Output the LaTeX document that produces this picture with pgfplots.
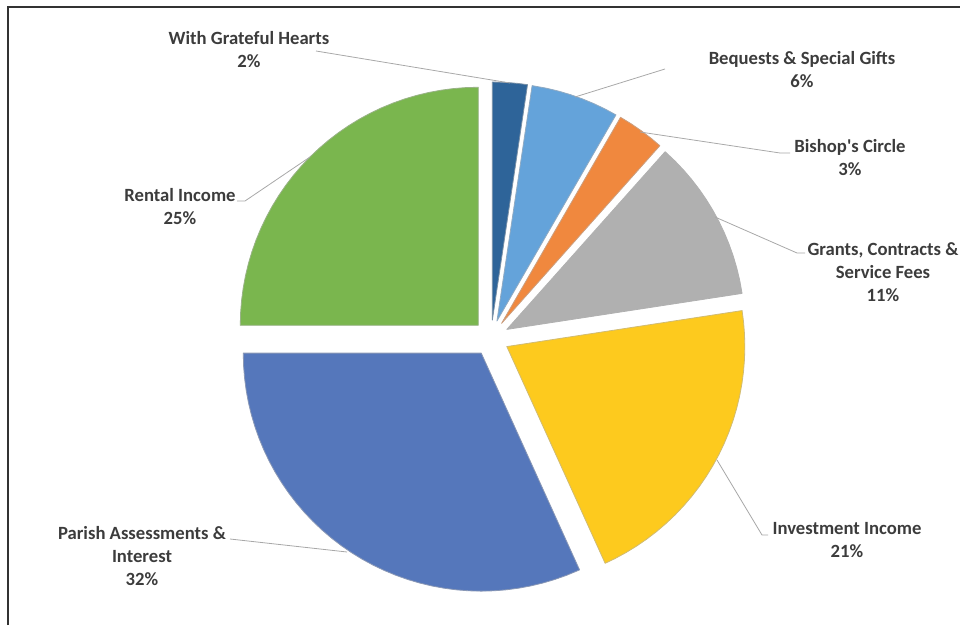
\documentclass[border=0pt]{standalone}
\usepackage{pgfplots}
\pgfplotsset{compat=1.18}
\usepackage{fontspec}
\setmainfont{Carlito}[Ligatures=TeXOff]
\definecolor{cWGH}{HTML}{2E6499}
\definecolor{cBEQ}{HTML}{64A3DA}
\definecolor{cBIS}{HTML}{F0883E}
\definecolor{cGRA}{HTML}{B0B0B0}
\definecolor{cINV}{HTML}{FDCA1E}
\definecolor{cPAR}{HTML}{5577BB}
\definecolor{cREN}{HTML}{7AB64E}
\definecolor{txt}{HTML}{3C3C3C}
\definecolor{lead}{HTML}{A8A8A8}
\begin{document}
\begin{tikzpicture}
\begin{axis}[at={(0,0)},anchor=south west,
  x=0.75pt,y=0.75pt,xmin=-491,xmax=469,ymin=-287,ymax=338,
  hide axis,clip=false,
  every axis plot/.append style={data cs=polar,line width=0.6pt,line join=round}]
% shares (%): WGH 2.4, Bequests 6.0, Bishop 3.2, Grants 11.0, Investment 20.6, Parish 31.8, Rental 25.0
% wedges as (angle, radius) polar coordinates, pie radius 238
\addplot[fill=cWGH,draw=cWGH!70!black!60,shift={(85.75:13.5pt)}] coordinates {(0,0) (90,238) (87,238) (84,238) (81.5,238)} -- cycle;
\addplot[fill=cBEQ,draw=cBEQ!70!black!60,shift={(70.75:13.5pt)}] coordinates {(0,0) (81.5,238) (78,238) (75,238) (72,238) (69,238) (66,238) (63,238) (60,238)} -- cycle;
\addplot[fill=cBIS,draw=cBIS!70!black!60,shift={(54.15:13.5pt)}] coordinates {(0,0) (60,238) (57,238) (54,238) (51,238) (48.3,238)} -- cycle;
\addplot[fill=cGRA,draw=cGRA!70!black!60,shift={(28.5:13.5pt)}] coordinates {(0,0) (48.3,238) (45,238) (42,238) (39,238) (36,238) (33,238) (30,238) (27,238) (24,238) (21,238) (18,238) (15,238) (12,238) (8.7,238)} -- cycle;
\addplot[fill=cINV,draw=cINV!70!black!60,shift={(-28.45:13.5pt)}] coordinates {(0,0) (8.7,238) (6,238) (3,238) (0,238) (-3,238) (-6,238) (-9,238) (-12,238) (-15,238) (-18,238) (-21,238) (-24,238) (-27,238) (-30,238) (-33,238) (-36,238) (-39,238) (-42,238) (-45,238) (-48,238) (-51,238) (-54,238) (-57,238) (-60,238) (-63,238) (-65.6,238)} -- cycle;
\addplot[fill=cPAR,draw=cPAR!70!black!60,shift={(-122.8:13.5pt)}] coordinates {(0,0) (-65.6,238) (-66,238) (-69,238) (-72,238) (-75,238) (-78,238) (-81,238) (-84,238) (-87,238) (-90,238) (-93,238) (-96,238) (-99,238) (-102,238) (-105,238) (-108,238) (-111,238) (-114,238) (-117,238) (-120,238) (-123,238) (-126,238) (-129,238) (-132,238) (-135,238) (-138,238) (-141,238) (-144,238) (-147,238) (-150,238) (-153,238) (-156,238) (-159,238) (-162,238) (-165,238) (-168,238) (-171,238) (-174,238) (-177,238) (-180,238)} -- cycle;
\addplot[fill=cREN,draw=cREN!70!black!60,shift={(135:13.5pt)}] coordinates {(0,0) (180,238) (177,238) (174,238) (171,238) (168,238) (165,238) (162,238) (159,238) (156,238) (153,238) (150,238) (147,238) (144,238) (141,238) (138,238) (135,238) (132,238) (129,238) (126,238) (123,238) (120,238) (117,238) (114,238) (111,238) (108,238) (105,238) (102,238) (99,238) (96,238) (93,238) (90,238)} -- cycle;
% frame
\draw[color=black!80,line width=1.1pt] (axis cs:-483,-287) -- (axis cs:-483,331) -- (axis cs:469,331);
% leader lines
\begin{scope}[color=lead,line width=0.6pt]
\draw (axis cs:-175,287) -- (axis cs:19,255);
\draw (axis cs:174,269) -- (axis cs:84,241);
\draw (axis cs:299,185) -- (axis cs:289,185) -- (axis cs:149,206);
\draw (axis cs:314,85) -- (axis cs:306,85) -- (axis cs:224,121);
\draw (axis cs:277,-197) -- (axis cs:271,-197) -- (axis cs:226,-122);
\draw (axis cs:-261,-201) -- (axis cs:-144,-214);
\draw (axis cs:-254,137) -- (axis cs:-246,137) -- (axis cs:-181,181);
\end{scope}
% labels
\begin{scope}[every node/.style={align=center,text=txt,font=\fontsize{14pt}{17.25pt}\selectfont\bfseries}]
\node at (axis cs:-242,288) {With Grateful Hearts\\2\%};
\node at (axis cs:311,268) {Bequests \& Special Gifts\\6\%};
\node at (axis cs:359,180) {Bishop's Circle\\3\%};
\node at (axis cs:392,66) {Grants, Contracts \&\\Service Fees\\11\%};
\node at (axis cs:356,-202) {Investment Income\\21\%};
\node at (axis cs:-349,-218) {Parish Assessments \&\\Interest\\32\%};
\node at (axis cs:-311,131) {Rental Income\\25\%};
\end{scope}
\end{axis}
\pgfresetboundingbox
\path (0,0) rectangle (720pt,468.75pt);
\end{tikzpicture}
\end{document}
